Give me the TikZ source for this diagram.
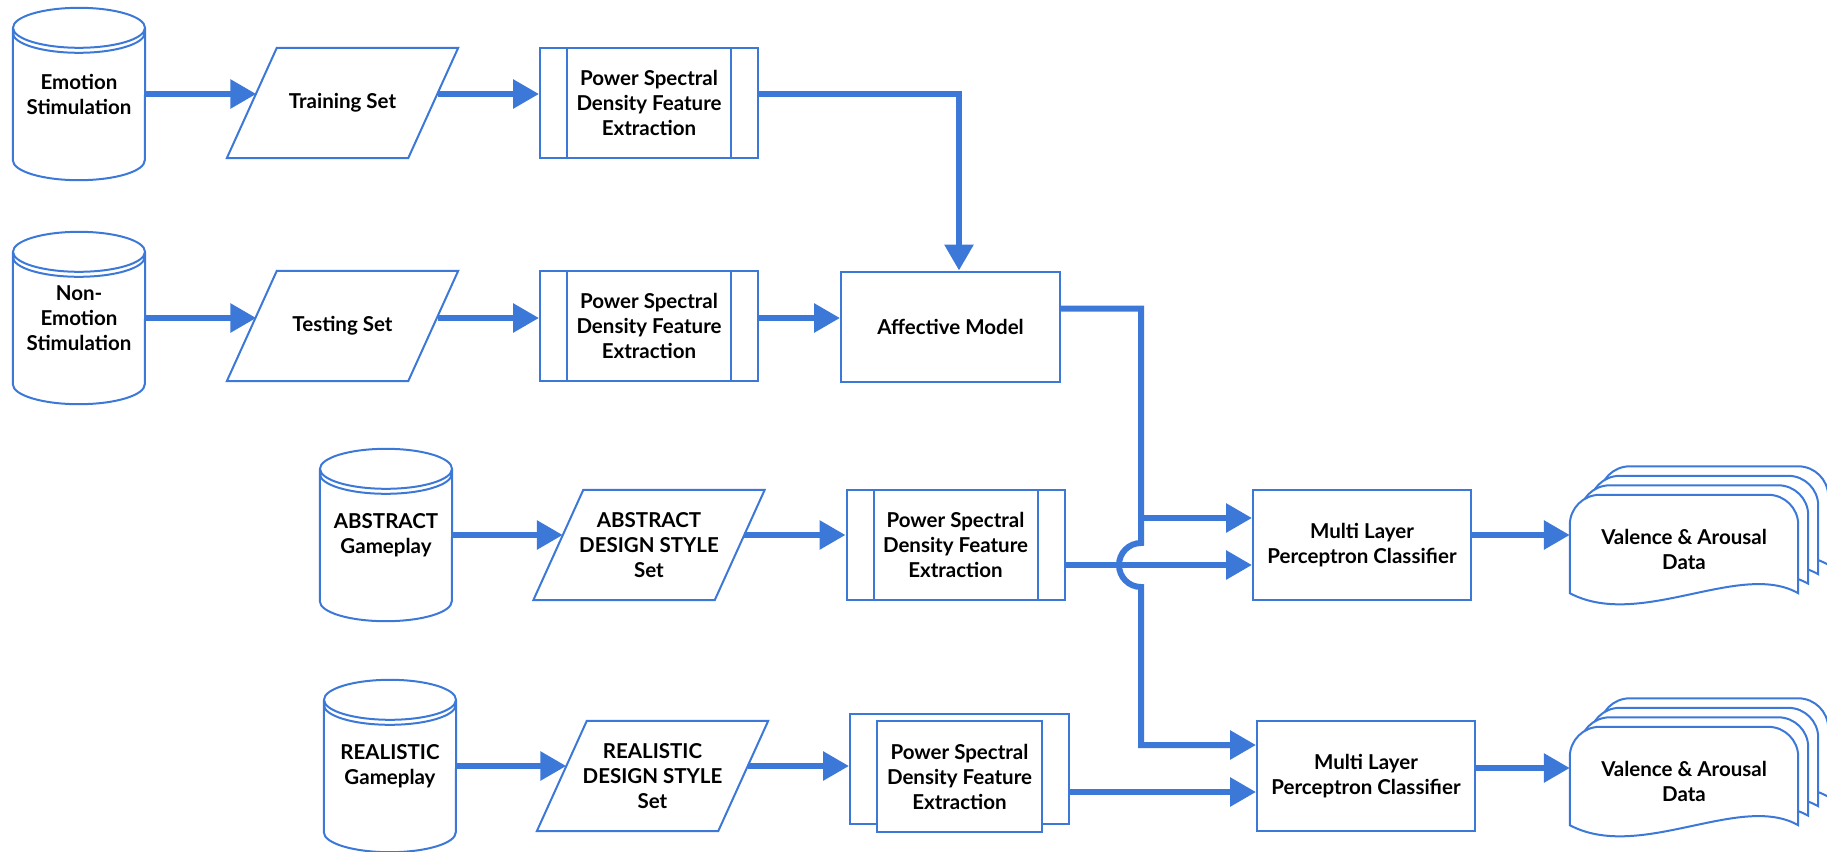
\documentclass[tikz,border=0pt]{standalone}
\usepackage{fontspec}
\setmainfont{Lato}
\usetikzlibrary{arrows.meta,backgrounds}
\definecolor{flowblue}{HTML}{3C78D8}
\tikzset{
  box/.style={draw=flowblue, line width=2pt, fill=white, inner sep=0pt, align=center,
    minimum width=218pt, minimum height=110pt},
  psd/.style={box, path picture={
      \draw[flowblue, line width=2pt]
        ([xshift=27pt]path picture bounding box.north west) -- ([xshift=27pt]path picture bounding box.south west)
        ([xshift=-27pt]path picture bounding box.north east) -- ([xshift=-27pt]path picture bounding box.south east);}},
  slab/.style={inner sep=0pt, align=center, minimum width=231pt, minimum height=110pt},
  drum/.style={inner sep=0pt, align=center, minimum width=132pt, minimum height=172pt},
  sheet/.style={inner sep=0pt, align=center, minimum width=228pt, minimum height=108pt},
  wire/.style={draw=flowblue, line width=6pt},
  flow/.style={wire, -{Triangle[length=26pt,width=28pt]}},
}
% database drum drawn round an empty node
\newcommand\drumline[1]{%
  \draw[flowblue, line width=2pt]
    ([yshift=-20pt]#1.north west) -- ([yshift=20pt]#1.south west)
    arc[start angle=180, end angle=360, x radius=66pt, y radius=20pt]
    -- ([yshift=-20pt]#1.north east)
    ([yshift=-20pt]#1.north) ellipse[x radius=66pt, y radius=20pt]
    ([yshift=-25pt]#1.north west) arc[start angle=180, end angle=360, x radius=66pt, y radius=20pt];}
% slanted data box
\newcommand\slabline[1]{%
  \draw[flowblue, line width=2pt]
    (#1.south west) -- ([xshift=50pt]#1.north west) -- (#1.north east)
    -- ([xshift=-50pt]#1.south east) -- cycle;}
% one sheet of a document stack
\newcommand\sheetline[1]{%
  \draw[flowblue, line width=2pt, fill=white]
    ([yshift=10pt]#1.south east) .. controls +(-58,-33) and +(70,37) .. ([yshift=10pt]#1.south west)
    [rounded corners=30pt] -- (#1.north west) -- (#1.north east) [sharp corners] -- cycle;}
\begin{document}
\begin{tikzpicture}[x=1pt, y=-1pt, font=\fontsize{20.5}{25}\selectfont\bfseries]
  \useasboundingbox (0,0) rectangle (1827,851);
  \draw
    (79,94) node[drum] (cylA){Emotion\\Stimulation}
    (79,318) node[drum] (cylB){Non-\\Emotion\\Stimulation}
    (386,535) node[drum] (cylC){ABSTRACT\\Gameplay}
    (390,766) node[drum] (cylD){REALISTIC\\Gameplay}
    (342.5,103) node[slab] (paraA){Training Set}
    (342.5,326) node[slab] (paraB){Testing Set}
    (649,545) node[slab] (paraC){ABSTRACT\\DESIGN STYLE\\Set}
    (652.5,776) node[slab] (paraD){REALISTIC\\DESIGN STYLE\\Set}
    (649,103) node[psd] (psdA){Power Spectral\\Density Feature\\Extraction}
    (649,326) node[psd] (psdB){Power Spectral\\Density Feature\\Extraction}
    (955.5,545) node[psd] (psdC){Power Spectral\\Density Feature\\Extraction}
    (959.5,769) node[box, minimum width=219pt] (psdDback){}
    (959.5,776.5) node[box, minimum width=165pt, minimum height=111pt] (psdD){Power Spectral\\Density Feature\\Extraction}
    (950.5,326.5) node[box, minimum width=219pt] (am){Affective Model}
    (1362,545) node[box] (mlpA){Multi Layer\\Perceptron Classifier}
    (1366,776) node[box] (mlpB){Multi Layer\\Perceptron Classifier}
    (1714,520.5) node[sheet] (docA3){}
    (1704,530) node[sheet] (docA2){}
    (1694,539.5) node[sheet] (docA1){}
    (1684,549) node[sheet] (docA){Valence \& Arousal\\Data}
    (1714,752.5) node[sheet] (docB3){}
    (1704,762) node[sheet] (docB2){}
    (1694,771.5) node[sheet] (docB1){}
    (1684,781) node[sheet] (docB){Valence \& Arousal\\Data};
  \drumline{cylA}
  \drumline{cylB}
  \drumline{cylC}
  \drumline{cylD}
  \slabline{paraA}
  \slabline{paraB}
  \slabline{paraC}
  \slabline{paraD}
  \begin{scope}[on background layer]
    \sheetline{docA3}
    \sheetline{docA2}
    \sheetline{docA1}
    \sheetline{docA}
    \sheetline{docB3}
    \sheetline{docB2}
    \sheetline{docB1}
    \sheetline{docB}
  \end{scope}
  \coordinate (split) at ([xshift=80pt,yshift=18pt]am.east);
  \coordinate (outC) at ([yshift=-20pt]psdC.east);
  \coordinate (hop) at (split |- outC);
  \begin{scope}[flow]
    \draw (cylA.east) to ([xshift=29.5pt]cylA.east -| paraA.west);
    \draw ([xshift=-20.5pt]cylA.east -| paraA.east) to (cylA.east -| psdA.west);
    \draw (cylA.east -| psdA.east) -| ([xshift=8.5pt]am.north);
    \draw (cylB.east) to ([xshift=29.5pt]cylB.east -| paraB.west);
    \draw ([xshift=-20.5pt]cylB.east -| paraB.east) to (cylB.east -| psdB.west);
    \draw (cylB.east -| psdB.east) to (cylB.east -| am.west);
    \draw (cylC.east) to ([xshift=29.5pt]cylC.east -| paraC.west);
    \draw ([xshift=-20.5pt]cylC.east -| paraC.east) to (cylC.east -| psdC.west);
    \draw (cylD.east) to ([xshift=29.5pt]cylD.east -| paraD.west);
    \draw ([xshift=-20.5pt]cylD.east -| paraD.east) to (cylD.east -| psdDback.west);
    \draw ([yshift=18pt]am.east) -- (split) -- ([yshift=22pt]hop)
      arc[start angle=90, end angle=270, radius=22pt] |- ([yshift=31pt]mlpB.west);
    \draw ([yshift=27pt]mlpA.west -| split) to ([yshift=27pt]mlpA.west);
    \draw (outC) to (outC -| mlpA.west);
    \draw ([yshift=-23pt]psdDback.east) to ([yshift=-23pt]psdDback.east -| mlpB.west);
    \draw ([yshift=10pt]mlpA.east) to ([yshift=10pt]mlpA.east -| docA.west);
    \draw ([yshift=8pt]mlpB.east) to ([yshift=8pt]mlpB.east -| docB.west);
  \end{scope}
\end{tikzpicture}
\end{document}
